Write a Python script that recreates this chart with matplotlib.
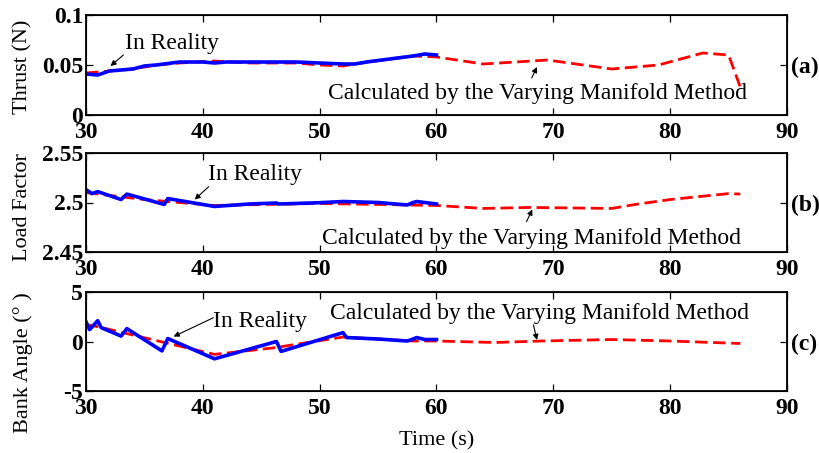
import numpy as np
import matplotlib
matplotlib.use("Agg")
import matplotlib.pyplot as plt

plt.rcParams['font.family'] = ['Liberation Serif', 'DejaVu Serif']

# data
thrust_real_t = [30, 31, 32, 33, 34, 35, 36, 38, 40, 41, 42, 44, 46, 48, 50, 52, 53, 54, 56, 58, 59, 60]
thrust_real = [0.041, 0.040, 0.044, 0.045, 0.046, 0.049, 0.050, 0.053, 0.053, 0.052, 0.053,
               0.053, 0.053, 0.053, 0.052, 0.051, 0.051, 0.053, 0.056, 0.059, 0.061, 0.060]
thrust_calc_t = [30, 32, 34, 36, 38, 41, 44, 48, 50, 52, 53, 56, 58, 60, 64, 69.5, 75, 79, 82.8, 85, 86]
thrust_calc = [0.042, 0.044, 0.046, 0.050, 0.052, 0.054, 0.052, 0.052, 0.050, 0.049, 0.051,
               0.056, 0.059, 0.058, 0.051, 0.055, 0.046, 0.050, 0.062, 0.060, 0.028]

load_real_t = [30, 30.5, 31, 33, 33.5, 36.7, 37, 39, 41, 44, 46.3, 46.5, 50, 52, 55, 57.5, 58, 58.3, 60]
load_real = [2.513, 2.509, 2.511, 2.503, 2.5085, 2.498, 2.504, 2.500, 2.496, 2.4985, 2.4995,
             2.4985, 2.4998, 2.501, 2.500, 2.4975, 2.500, 2.501, 2.4985]
load_calc_t = [30, 35, 41, 45, 50, 55, 60, 64, 68, 75, 77, 80, 85, 86]
load_calc = [2.510, 2.503, 2.497, 2.498, 2.499, 2.498, 2.497, 2.494, 2.495, 2.494, 2.498,
             2.503, 2.509, 2.5085]

bank_real_t = [30, 30.3, 31, 31.3, 33, 33.5, 36.5, 37, 41, 46.3, 46.7, 52, 52.3, 55, 57.5, 58, 58.3, 59, 60]
bank_real = [2.0, 1.2, 2.1, 1.4, 0.55, 1.3, -0.95, 0.3, -1.75, 0.0, -1.0, 0.9, 0.4, 0.25,
             0.05, 0.25, 0.4, 0.2, 0.2]
bank_calc_t = [30, 31, 41, 46, 52, 55, 58, 60, 65, 69, 75, 80, 86]
bank_calc = [1.7, 1.5, -1.3, -0.65, 0.45, 0.25, 0.05, 0.05, -0.1, 0.05, 0.2, 0.05, -0.2]

xticks = [30, 40, 50, 60, 70, 80, 90]

W, H = 819, 453
fig = plt.figure(figsize=(W / 100, H / 100), dpi=100)

def box(top, bottom):
    return [86 / W, 1 - bottom / H, (787 - 86) / W, (bottom - top) / H]

panels = [
    dict(rect=box(15, 115), rt=thrust_real_t, r=thrust_real, ct=thrust_calc_t, c=thrust_calc,
         ylim=(0, 0.1), yt=[0, 0.05, 0.1], ytl=['0', '0.05', '0.1'], tag='(a)',
         ylabel='Thrust (N)', ly=67,
         real_txt=(33.3, 0.072), real_arr=((33.2, 0.060), (32.1, 0.049)),
         calc_txt=(50.7, 0.022), calc_arr=((68.15, 0.037), (68.6, 0.048))),
    dict(rect=box(153, 252), rt=load_real_t, r=load_real, ct=load_calc_t, c=load_calc,
         ylim=(2.45, 2.55), yt=[2.45, 2.5, 2.55], ytl=['2.45', '2.5', '2.55'], tag='(b)',
         ylabel='Load Factor', ly=207,
         real_txt=(40.4, 2.528), real_arr=((40.5, 2.516), (39.3, 2.503)),
         calc_txt=(50.2, 2.464), calc_arr=((67.7, 2.4806), (68.2, 2.493))),
    dict(rect=box(292, 391), rt=bank_real_t, r=bank_real, ct=bank_calc_t, c=bank_calc,
         ylim=(-5, 5), yt=[-5, 0, 5], ytl=['-5', '0', '5'], tag='(c)',
         ylabel='Bank Angle (° )', ly=363,
         real_txt=(40.9, 2.0), real_arr=((40.9, 2.4), (37.5, 0.5)),
         calc_txt=(50.9, 2.85), calc_arr=((68.3, 1.67), (68.6, 0.15))),
]

for p in panels:
    ax = fig.add_axes(p['rect'])
    ax.plot(p['ct'], p['c'], color='#ff0000', lw=2, dashes=(4.5, 2), zorder=2)
    ax.plot(p['rt'], p['r'], color='#0000ff', lw=2.6, zorder=3)
    ax.set_xlim(30, 90)
    ax.set_ylim(*p['ylim'])
    ax.set_xticks(xticks)
    ax.set_xticklabels([str(x) for x in xticks], fontweight='bold', fontsize=17)
    ax.set_yticks(p['yt'])
    ax.set_yticklabels(p['ytl'], fontweight='bold', fontsize=17)
    ax.tick_params(axis='x', direction='in', top=True, length=5, width=0.9, pad=5)
    ax.tick_params(axis='y', direction='in', right=False, length=5, width=0.9, pad=2)
    for s in ax.spines.values():
        s.set_linewidth(1.3)

    ax2 = ax.twinx()
    ax2.set_ylim(*p['ylim'])
    mid = (p['ylim'][0] + p['ylim'][1]) / 2
    ax2.set_yticks([mid])
    ax2.set_yticklabels([p['tag']], fontweight='bold', fontsize=17)
    ax2.tick_params(axis='y', direction='in', length=5, width=0.9, pad=3)

    ax.text(p['real_txt'][0], p['real_txt'][1], 'In Reality', fontsize=17,
            ha='left', va='center', zorder=5)
    ax.annotate('', xy=p['real_arr'][1], xytext=p['real_arr'][0],
                arrowprops=dict(arrowstyle='-|>', color='black', lw=0.8,
                                mutation_scale=8, shrinkA=0, shrinkB=0))
    ax.text(p['calc_txt'][0], p['calc_txt'][1], 'Calculated by the Varying Manifold Method',
            fontsize=17, ha='left', va='center', zorder=5)
    ax.annotate('', xy=p['calc_arr'][1], xytext=p['calc_arr'][0],
                arrowprops=dict(arrowstyle='-|>', color='black', lw=0.8,
                                mutation_scale=8, shrinkA=0, shrinkB=0))

    fig.text(23 / W, 1 - p['ly'] / H, p['ylabel'], rotation=90, fontsize=16,
             ha='center', va='center')

fig.text(437 / W, 1 - 441 / H, 'Time (s)', fontsize=16, ha='center', va='center')

fig.savefig('out.png', dpi=100)
